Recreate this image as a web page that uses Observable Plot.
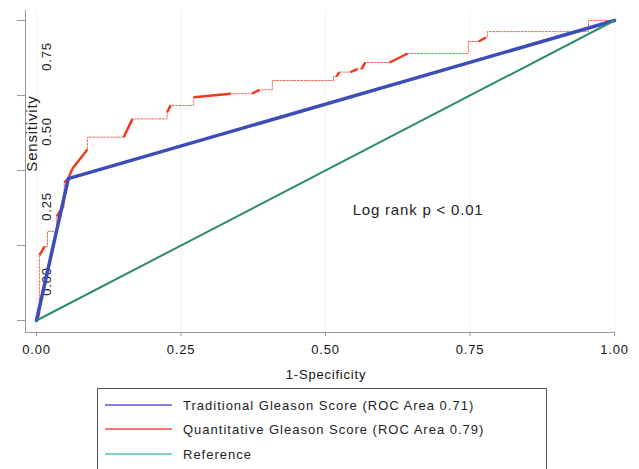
<!DOCTYPE html>
<html><head><meta charset="utf-8">
<script src="https://cdn.jsdelivr.net/npm/d3@7"></script>
<script src="https://cdn.jsdelivr.net/npm/@observablehq/plot@0.6"></script>
<style>
body{margin:0;background:#fff;width:639px;height:469px;overflow:hidden;position:relative;font-family:"Liberation Sans",Arial,sans-serif}
#chart svg text{letter-spacing:0.8px}
#legend{position:absolute;left:97px;top:388px;width:450px;height:100px;border:1px solid #555;box-sizing:border-box;background:#fff}
.row{position:absolute;left:7px;height:20px;display:flex;align-items:center}
.sw{width:67px;height:2px}
.lab{margin-left:11px;font-size:13px;letter-spacing:1px;color:#222;white-space:nowrap}
</style></head><body><div id="chart"></div><div id="legend"></div>
<script>
// Series names and legend colours
const seriesNames = ["Traditional Gleason Score (ROC Area 0.71)", "Quantitative Gleason Score (ROC Area 0.79)", "Reference"];
const legendColors = ["#8b80d6", "#f07a78", "#7fcfc2"];

// Traditional Gleason Score ROC
const tradFPR = [0, 0.055, 1];
const tradTPR = [0, 0.473, 1];

// Quantitative Gleason Score ROC (step curve)
const quantFPR = [0, 0.005, 0.005, 0.014, 0.019, 0.019, 0.035, 0.035, 0.047, 0.048, 0.048, 0.055, 0.062, 0.088, 0.088, 0.151, 0.166, 0.226, 0.226, 0.232, 0.272, 0.272, 0.336, 0.373, 0.386, 0.408, 0.408, 0.514, 0.514, 0.519, 0.524, 0.543, 0.555, 0.562, 0.569, 0.611, 0.642, 0.747, 0.747, 0.765, 0.777, 0.780, 0.780, 0.955, 0.955, 1];
const quantTPR = [0, 0.027, 0.217, 0.247, 0.247, 0.297, 0.297, 0.347, 0.383, 0.383, 0.46, 0.473, 0.506, 0.57, 0.611, 0.611, 0.672, 0.672, 0.694, 0.717, 0.717, 0.744, 0.756, 0.756, 0.769, 0.769, 0.8, 0.8, 0.813, 0.813, 0.828, 0.828, 0.838, 0.838, 0.86, 0.86, 0.89, 0.89, 0.93, 0.93, 0.943, 0.943, 0.963, 0.963, 1, 1];

// Reference diagonal
const refFPR = [0, 1];
const refTPR = [0, 1];

// Ticks
const xTicks = [0, 0.25, 0.5, 0.75, 1];
const yTicks = [0, 0.25, 0.5, 0.75, 1];
const yLabelTicks = [0, 0.25, 0.5, 0.75];

// Annotation
const annotation = [{x: 0.547, y: 0.367, text: "Log rank p < 0.01"}];

const trad = tradFPR.map((x, i) => ({x, y: tradTPR[i]}));
const quant = quantFPR.map((x, i) => ({x, y: quantTPR[i]}));
const ref = refFPR.map((x, i) => ({x, y: refTPR[i]}));
const thick = [];
for (let i = 1; i < quant.length; i++) {
  const a = quant[i - 1], b = quant[i];
  if (a.x !== b.x && a.y !== b.y) thick.push({x1: a.x, y1: a.y, x2: b.x, y2: b.y});
}

const fmt = d3.format(".2f");
const chart = Plot.plot({
  width: 639, height: 385,
  marginTop: 10, marginRight: 25, marginBottom: 53, marginLeft: 25,
  insetTop: 10, insetLeft: 11, insetBottom: 12,
  x: {domain: [0, 1], label: null},
  y: {domain: [0, 1], label: null},
  style: {fontFamily: "Liberation Sans, Arial, sans-serif", fontSize: "13px", color: "#333", background: "white"},
  marks: [
    Plot.gridX(xTicks, {stroke: "#e6e6e6", strokeOpacity: 0.5}),
    Plot.frame({anchor: "left", stroke: "#999"}),
    Plot.frame({anchor: "bottom", stroke: "#999"}),
    Plot.axisX(xTicks, {tickSize: 4, tickPadding: 8, stroke: "#999", fill: "#111", tickFormat: fmt, label: null}),
    Plot.axisY(yTicks, {tickSize: 8, stroke: "#999", fill: "none", label: null}),
    Plot.axisY(yLabelTicks, {tickSize: 0, tickPadding: 0, stroke: "none", fill: "#222", tickFormat: fmt, tickRotate: -90, textAnchor: "middle", dx: 25, dy: -39, label: null}),
    Plot.text(["Sensitivity"], {frameAnchor: "left", text: d => d, rotate: -90, textAnchor: "middle", lineAnchor: "middle", dx: 7, dy: -38, fontSize: 15, fill: "#222"}),
    Plot.text(["1-Specificity"], {frameAnchor: "bottom", text: d => d, textAnchor: "middle", lineAnchor: "middle", dx: 6, dy: 42, fontSize: 13, fill: "#111"}),
    Plot.line(quant, {x: "x", y: "y", stroke: "#f06a5a", strokeWidth: 1, strokeDasharray: "2,1.5", curve: "linear"}),
    Plot.link(thick, {x1: "x1", y1: "y1", x2: "x2", y2: "y2", stroke: "#ee3b1f", strokeWidth: 2.5}),
    Plot.line(trad, {x: "x", y: "y", stroke: "#3d4db7", strokeWidth: 3.5}),
    Plot.line(ref, {x: "x", y: "y", stroke: "#2f8a73", strokeWidth: 2}),
    Plot.text(annotation, {x: "x", y: "y", text: "text", textAnchor: "start", fontSize: 15, fill: "#222"})
  ]
});
document.getElementById("chart").append(chart);

const legend = document.getElementById("legend");
const rowTops = [6, 30, 55];
seriesNames.forEach((name, i) => {
  const row = document.createElement("div");
  row.className = "row";
  row.style.top = rowTops[i] + "px";
  const sw = document.createElement("div");
  sw.className = "sw";
  sw.style.background = legendColors[i];
  const lab = document.createElement("span");
  lab.className = "lab";
  lab.textContent = name;
  row.append(sw, lab);
  legend.append(row);
});
</script>
</body></html>
